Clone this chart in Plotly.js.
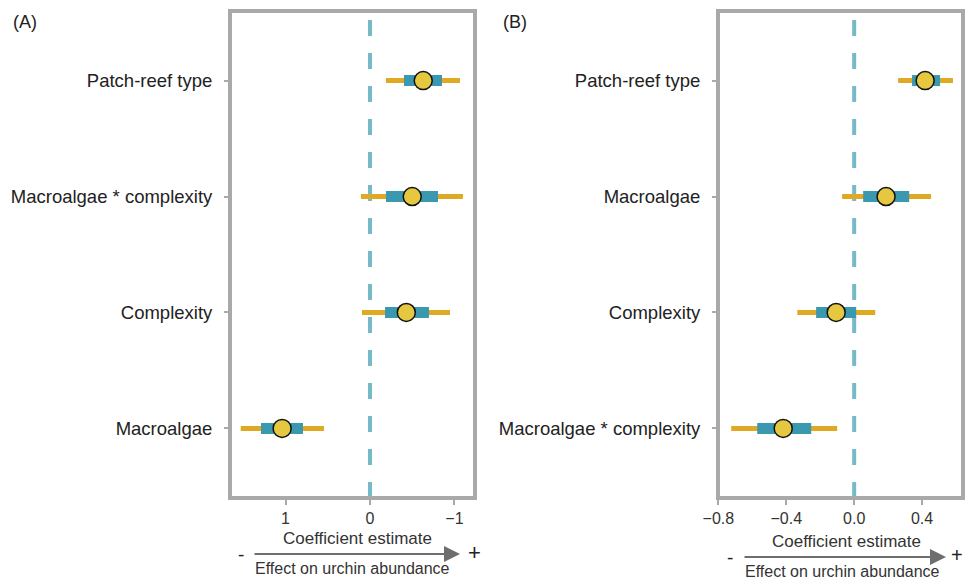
<!DOCTYPE html>
<html>
<head>
<meta charset="utf-8">
<script src="https://cdn.plot.ly/plotly-3.0.1.min.js"></script>
<style>html,body{margin:0;padding:0;background:#fff;}#chart{width:965px;height:580px;}</style>
</head>
<body>
<div id="chart"></div>
<script>
// Panel A (bottom to top)
const catsA = ['Macroalgae', 'Complexity', 'Macroalgae * complexity', 'Patch-reef type'];
const estA = [1.04, -0.43, -0.50, -0.63];
const lo95A = [1.53, 0.095, 0.107, -0.189];
const hi95A = [0.544, -0.947, -1.10, -1.065];
const lo50A = [1.29, -0.178, -0.189, -0.402];
const hi50A = [0.793, -0.698, -0.805, -0.852];
const ticksA = [1, 0, -1];

// Panel B (bottom to top)
const catsB = ['Macroalgae * complexity', 'Complexity', 'Macroalgae', 'Patch-reef type'];
const estB = [-0.418, -0.106, 0.188, 0.418];
const lo95B = [-0.724, -0.335, -0.071, 0.259];
const hi95B = [-0.10, 0.124, 0.453, 0.582];
const lo50B = [-0.571, -0.224, 0.053, 0.341];
const hi50B = [-0.253, 0.012, 0.324, 0.506];
const ticksB = [-0.8, -0.4, 0, 0.4];

const ORANGE = '#e0a923', TEAL = '#3a98b0', YELLOW = '#e6c840', FRAME = '#a8aaaa', DASH = '#76bac8';
const FONT = 'Liberation Sans, Arial, Helvetica, sans-serif';

function segs(lo, hi) {
  const x = [], y = [];
  lo.forEach((v, i) => { x.push(v, hi[i], null); y.push(i + 1, i + 1, null); });
  return {x, y};
}
function pos(arr) { return arr.map((_, i) => i + 1); }

function panelTraces(est, lo95, hi95, lo50, hi50, xa, ya) {
  const s95 = segs(lo95, hi95), s50 = segs(lo50, hi50);
  return [
    {type: 'scatter', mode: 'lines', x: s95.x, y: s95.y, xaxis: xa, yaxis: ya,
     line: {color: ORANGE, width: 5}, hoverinfo: 'skip', showlegend: false, connectgaps: false},
    {type: 'scatter', mode: 'lines', x: s50.x, y: s50.y, xaxis: xa, yaxis: ya,
     line: {color: TEAL, width: 11}, hoverinfo: 'skip', showlegend: false, connectgaps: false},
    {type: 'scatter', mode: 'markers', x: est, y: pos(est), xaxis: xa, yaxis: ya,
     marker: {color: YELLOW, size: 18, line: {color: '#111', width: 1.5}}, showlegend: false}
  ];
}

const data = [
  ...panelTraces(estA, lo95A, hi95A, lo50A, hi50A, 'x', 'y'),
  ...panelTraces(estB, lo95B, hi95B, lo50B, hi50B, 'x2', 'y2')
];

const W = 965, H = 580;
const yDom = [1 - 498 / H, 1 - 11 / H];
const xDomA = [230 / W, 475 / W];
const xDomB = [718 / W, 963 / W];

function xaxis(dom, range, ticks, fmt, anchor) {
  return {domain: dom, range: range, anchor: anchor, tickvals: ticks, tickformat: fmt,
    showgrid: false, zeroline: false, showline: false, ticks: 'outside', ticklen: 6, tickwidth: 2,
    tickcolor: FRAME, tickfont: {family: FONT, size: 16, color: '#333'}, fixedrange: true};
}
function yaxis(cats, anchor) {
  return {domain: yDom, range: [0.4, 4.6], anchor: anchor, tickvals: pos(cats), ticktext: cats,
    showgrid: false, zeroline: false, showline: false, ticks: 'outside', ticklen: 5, tickwidth: 2,
    tickcolor: FRAME, ticklabelstandoff: 8, tickfont: {family: FONT, size: 18.5, color: '#222'}, fixedrange: true};
}

const shapes = [];
[['x', 'y'], ['x2', 'y2']].forEach(([xa, ya]) => {
  shapes.push({type: 'line', xref: xa, yref: ya + ' domain', x0: 0, x1: 0, y0: 0, y1: 1,
    layer: 'below', line: {color: DASH, width: 4, dash: '16px,17px'}});
  shapes.push({type: 'rect', xref: xa + ' domain', yref: ya + ' domain', x0: 0, x1: 1, y0: 0, y1: 1,
    layer: 'above', line: {color: FRAME, width: 4}});
});

function py(p) { return 1 - p / H; }
function px(p) { return p / W; }
const annFont = {family: FONT, size: 17, color: '#333'};
const smallFont = {family: FONT, size: 16, color: '#333'};
const annotations = [
  {text: '(A)', x: px(11), y: py(22), xanchor: 'left', yanchor: 'middle', font: {family: FONT, size: 18, color: '#222'}},
  {text: '(B)', x: px(501), y: py(22), xanchor: 'left', yanchor: 'middle', font: {family: FONT, size: 18, color: '#222'}},
  {text: 'Coefficient estimate', x: px(357), y: py(538), xanchor: 'center', yanchor: 'middle', font: annFont},
  {text: 'Coefficient estimate', x: px(846), y: py(541), xanchor: 'center', yanchor: 'middle', font: annFont},
  {text: 'Effect on urchin abundance', x: px(352), y: py(568), xanchor: 'center', yanchor: 'middle', font: smallFont},
  {text: 'Effect on urchin abundance', x: px(842), y: py(571), xanchor: 'center', yanchor: 'middle', font: smallFont},
  {text: '-', x: px(241), y: py(554), xanchor: 'center', yanchor: 'middle', font: {family: FONT, size: 19, color: '#222'}},
  {text: '+', x: px(474), y: py(552), xanchor: 'center', yanchor: 'middle', font: {family: FONT, size: 22, color: '#222'}},
  {text: '-', x: px(730), y: py(557), xanchor: 'center', yanchor: 'middle', font: {family: FONT, size: 19, color: '#222'}},
  {text: '+', x: px(957), y: py(555), xanchor: 'center', yanchor: 'middle', font: {family: FONT, size: 20, color: '#222'}},
  {text: '', x: px(460), y: py(554), ax: px(253), ay: py(554), axref: 'paper', ayref: 'paper',
   showarrow: true, arrowhead: 2, arrowsize: 1.6, arrowwidth: 2, arrowcolor: '#6e6e6e'},
  {text: '', x: px(946), y: py(557), ax: px(743), ay: py(557), axref: 'paper', ayref: 'paper',
   showarrow: true, arrowhead: 2, arrowsize: 1.6, arrowwidth: 2, arrowcolor: '#6e6e6e'}
].map(a => Object.assign({xref: 'paper', yref: 'paper', showarrow: false}, a));

const layout = {
  width: W, height: H, autosize: false,
  margin: {l: 0, r: 0, t: 0, b: 0, pad: 0},
  paper_bgcolor: '#fff', plot_bgcolor: '#fff',
  showlegend: false,
  xaxis: xaxis(xDomA, [1.657, -1.243], ticksA, 'd', 'y'),
  yaxis: yaxis(catsA, 'x'),
  xaxis2: xaxis(xDomB, [-0.802, 0.641], ticksB, '.1f', 'y2'),
  yaxis2: yaxis(catsB, 'x2'),
  shapes: shapes,
  annotations: annotations
};

Plotly.newPlot('chart', data, layout, {displayModeBar: false, staticPlot: true});
</script>
</body>
</html>
